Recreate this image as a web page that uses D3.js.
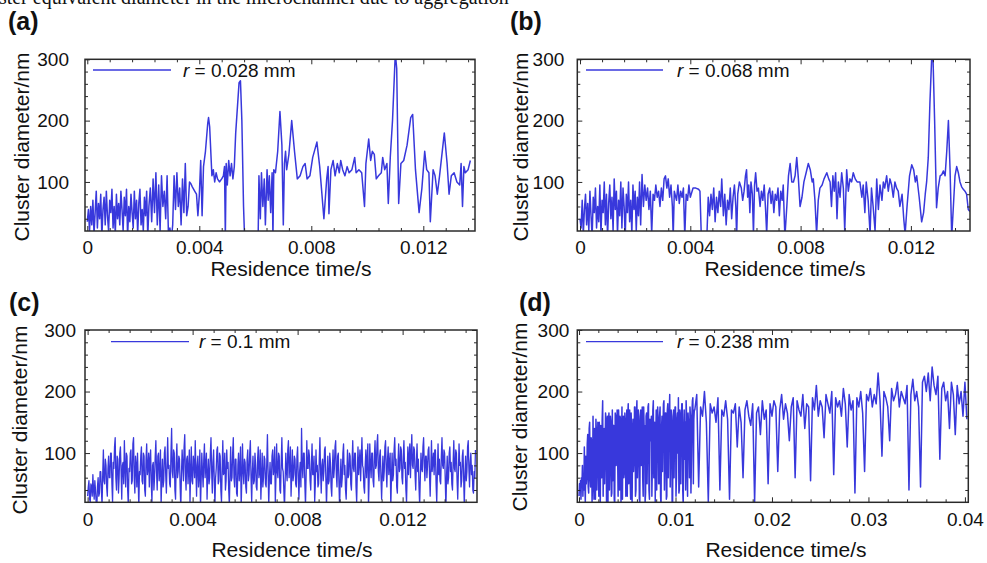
<!DOCTYPE html>
<html>
<head>
<meta charset="utf-8">
<script src="https://cdn.jsdelivr.net/npm/d3@7"></script>
<style>
  body { margin: 0; background: #fff; }
  svg { display: block; }
</style>
</head>
<body>
<svg id="fig" width="987" height="563"></svg>
<script>
// ---------------------------------------------------------------
// Cluster equivalent diameter vs residence time at four radial
// positions in the microchannel. Times are in milliseconds,
// diameters in nm.
// ---------------------------------------------------------------

const figureTitle = "Cluster equivalent diameter in the microchannel due to aggregation";
const panelLetters = ["(a)", "(b)", "(c)", "(d)"];
const radii = ["0.028", "0.068", "0.1", "0.238"];
const yAxisTitle = "Cluster diameter/nm";
const xAxisTitle = "Residence time/s";

const yTickValues = [100, 200, 300];
const yTickLabels = ["100", "200", "300"];
const xTickValuesShort = [0, 4, 8, 12];              // ms
const xTickLabelsShort = ["0", "0.004", "0.008", "0.012"];
const xTickValuesLong = [0, 10, 20, 30, 40];         // ms
const xTickLabelsLong = ["0", "0.01", "0.02", "0.03", "0.04"];

// (a) r = 0.028 mm : [time ms, diameter nm]
const seriesA = [
  [0,35],[0.04,55],[0.08,20],[0.12,60],[0.16,30],[0.2,70],[0.24,15],[0.28,50],[0.32,85],[0.36,25],
  [0.4,65],[0.44,40],[0.48,80],[0.52,10],[0.56,55],[0.6,75],[0.64,30],[0.68,85],[0.72,45],[0.76,20],
  [0.8,70],[0.84,50],[0.88,88],[0.92,25],[0.96,60],[1,15],[1.04,80],[1.08,40],[1.12,65],[1.16,30],
  [1.2,85],[1.24,55],[1.28,20],[1.32,75],[1.36,45],[1.4,88],[1.44,10],[1.48,60],[1.52,35],[1.56,80],
  [1.6,50],[1.64,25],[1.68,85],[1.72,40],[1.76,70],[1.8,15],[1.84,65],[1.88,88],[1.92,30],[1.96,55],
  [2,20],[2.04,75],[2.08,45],[2.12,85],[2.16,10],[2.2,60],
  [2.25,90],[2.3,35],[2.35,105],[2.4,50],[2.45,115],[2.5,30],[2.55,95],[2.6,20],[2.65,110],[2.7,60],
  [2.75,85],[2.8,40],[2.85,110],[2.9,10],[2.95,25],[3,5],[3.05,30],[3.1,110],[3.15,55],[3.2,115],
  [3.25,60],[3.3,90],[3.35,30],[3.4,105],[3.45,50],[3.5,130],[3.55,45],[3.6,60],[3.65,100],[3.7,97],
  [3.75,92],[3.8,88],[3.85,84],[3.9,80],[3.95,45],[4,78],
  [4.05,135],[4.1,45],[4.15,125],[4.22,150],[4.3,195],[4.33,205],[4.37,190],[4.45,110],[4.5,120],[4.55,100],
  [4.6,115],[4.65,105],[4.72,100],[4.8,105],[4.86,110],[4.9,125],[4.93,10],[4.96,130],[5,95],[5.05,135],
  [5.1,110],[5.15,130],[5.2,105],[5.25,125],[5.3,180],[5.42,262],[5.47,265],[5.52,200],[5.58,60],[5.62,5],
  [6.1,5],[6.13,110],[6.18,40],[6.22,115],[6.27,60],[6.32,105],[6.36,30],[6.42,120],[6.46,70],[6.5,110],
  [6.55,50],[6.6,115],[6.63,10],[6.66,120],[6.72,115],[6.8,150],[6.88,215],[6.95,160],[7,30],[7.04,130],
  [7.08,150],[7.12,120],[7.2,145],[7.3,200],[7.4,150],[7.5,105],[7.6,110],[7.7,125],[7.78,130],[7.85,105],
  [7.95,110],[8.05,140],[8.2,165],[8.3,125],[8.45,40],[8.55,105],[8.6,125],[8.63,48],[8.7,120],[8.78,135],
  [8.85,110],[8.93,130],[9,115],[9.05,135],[9.12,120],[9.2,110],[9.28,125],[9.35,115],[9.45,120],[9.55,140],
  [9.6,115],[9.7,120],[9.8,115],[9.9,60],[9.95,130],[10.05,170],[10.12,135],[10.18,150],[10.25,145],[10.32,105],
  [10.4,110],[10.5,115],[10.55,140],[10.62,120],[10.7,130],[10.75,65],[10.82,140],[10.9,200],[11,310],[11.05,285],
  [11.12,65],[11.2,130],[11.3,135],[11.42,160],[11.55,205],[11.62,210],[11.72,120],[11.85,50],[11.95,90],[12.05,150],
  [12.12,120],[12.2,115],[12.25,35],[12.35,120],[12.42,110],[12.5,80],[12.58,110],[12.75,180],[12.85,130],[12.92,80],
  [13,110],[13.1,115],[13.2,100],[13.3,95],[13.35,130],[13.4,60],[13.45,125],[13.5,115],[13.6,120],[13.68,135]
];

// (b) r = 0.068 mm : [time ms, diameter nm]
const seriesB = [
  [0,40],[0.04,25],[0.08,70],[0.12,15],[0.16,55],[0.2,80],[0.24,30],[0.28,65],[0.32,20],[0.36,85],
  [0.4,45],[0.44,10],[0.48,75],[0.52,50],[0.56,90],[0.6,25],[0.64,60],[0.68,35],[0.72,95],[0.76,15],
  [0.8,70],[0.84,50],[0.88,100],[0.92,30],[0.96,80],[1,10],[1.04,65],[1.08,95],[1.12,40],[1.16,75],
  [1.2,20],[1.24,105],[1.28,55],[1.32,85],[1.36,15],[1.4,70],[1.44,45],[1.48,100],[1.52,25],[1.56,90],
  [1.6,60],[1.64,10],[1.68,80],[1.72,50],[1.76,100],[1.8,35],[1.84,70],[1.88,15],[1.92,95],[1.96,55],
  [2,85],[2.04,20],[2.08,75],[2.12,45],[2.16,100],[2.2,30],
  [2.25,112],[2.3,60],[2.35,95],[2.4,70],[2.45,90],[2.5,55],[2.55,85],[2.6,15],[2.65,80],[2.7,70],
  [2.75,95],[2.8,75],[2.85,85],[2.9,60],[2.95,90],[3,70],[3.05,105],[3.1,110],[3.15,90],[3.2,105],
  [3.25,75],[3.3,95],[3.35,60],[3.38,10],[3.42,85],[3.5,70],[3.55,95],[3.6,65],[3.65,85],[3.7,75],
  [3.75,90],[3.8,10],[3.85,80],[3.9,70],[3.95,95],[4,75],[4.1,90],[4.2,90],[4.3,88],[4.35,85],
  [4.4,10],[4.5,5],[4.6,10],[4.65,75],[4.7,45],[4.75,80],[4.8,55],[4.85,90],[4.9,35],[4.95,75],
  [5,50],[5.05,85],[5.1,60],[5.14,105],[5.2,45],[5.25,80],[5.3,30],[5.35,70],[5.4,55],[5.45,90],
  [5.5,40],[5.55,75],[5.6,95],[5.65,60],[5.68,10],[5.72,80],[5.78,100],[5.85,90],[5.9,70],[5.95,85],
  [6,110],[6.04,120],[6.08,75],[6.12,95],[6.16,50],[6.2,100],[6.25,80],[6.29,15],[6.33,95],[6.37,115],
  [6.42,85],[6.47,90],[6.53,60],[6.58,85],[6.63,70],[6.68,95],[6.73,55],[6.77,15],[6.82,80],[6.88,90],
  [6.93,65],[6.98,85],[7.03,50],[7.08,80],[7.13,70],[7.18,90],[7.23,45],[7.28,85],[7.33,70],[7.37,95],
  [7.43,10],[7.5,60],[7.56,110],[7.62,130],[7.68,100],[7.74,100],[7.8,110],[7.86,140],[7.92,105],[7.98,60],
  [8.05,75],[8.12,100],[8.2,115],[8.28,130],[8.35,120],[8.42,100],[8.46,105],[8.52,70],[8.58,15],[8.64,70],
  [8.7,90],[8.78,95],[8.85,105],[8.95,115],[9.02,105],[9.07,100],[9.12,60],[9.17,110],[9.22,85],[9.27,115],
  [9.32,40],[9.37,100],[9.43,75],[9.49,115],[9.55,90],[9.6,20],[9.67,120],[9.73,85],[9.79,105],[9.85,100],
  [9.91,115],[9.98,105],[10.05,100],[10.15,100],[10.22,75],[10.27,95],[10.33,50],[10.38,100],[10.45,70],[10.52,15],
  [10.57,90],[10.63,60],[10.7,20],[10.76,105],[10.82,55],[10.88,95],[10.95,70],[11,100],[11.05,90],[11.12,110],
  [11.18,85],[11.24,105],[11.3,95],[11.36,75],[11.42,100],[11.48,90],[11.54,85],[11.6,60],[11.68,80],[11.74,40],
  [11.79,15],[11.86,60],[11.95,110],[12.03,128],[12.1,120],[12.16,100],[12.21,110],[12.3,75],[12.39,35],[12.46,50],
  [12.52,80],[12.57,100],[12.63,140],[12.69,230],[12.76,310],[12.8,305],[12.86,200],[12.93,58],[12.99,90],[13.06,110],
  [13.12,112],[13.18,118],[13.24,110],[13.3,150],[13.36,200],[13.42,120],[13.48,10],[13.54,60],[13.6,110],[13.66,125],
  [13.72,115],[13.78,100],[13.84,92],[13.9,88],[13.96,85],[14.02,80],[14.08,55],[14.14,52]
];

// (c) r = 0.1 mm : sample times (ms) and diameters (nm)
const timesC = [
  0,0.025,0.05,0.075,0.1,0.125,0.15,0.175,0.2,0.225,0.25,0.275,0.3,0.325,0.35,0.375,0.4,0.425,0.45,0.475,
  0.5,0.525,0.55,0.575,0.6,0.625,0.65,0.675,0.7,0.725,0.75,0.775,0.8,0.825,0.85,0.875,0.9,0.925,0.95,0.975,
  1,1.025,1.05,1.075,1.1,1.125,1.15,1.175,1.2,1.225,1.25,1.275,1.3,1.325,1.35,1.375,1.4,1.425,1.45,1.475,
  1.5,1.525,1.55,1.575,1.6,1.625,1.65,1.675,1.7,1.725,1.75,1.775,1.8,1.825,1.85,1.875,1.9,1.925,1.95,1.975,
  2,2.025,2.05,2.075,2.1,2.125,2.15,2.175,2.2,2.225,2.25,2.275,2.3,2.325,2.35,2.375,2.4,2.425,2.45,2.475,
  2.5,2.525,2.55,2.575,2.6,2.625,2.65,2.675,2.7,2.725,2.75,2.775,2.8,2.825,2.85,2.875,2.9,2.925,2.95,2.975,
  3,3.025,3.05,3.075,3.1,3.125,3.15,3.175,3.2,3.225,3.25,3.275,3.3,3.325,3.35,3.375,3.4,3.425,3.45,3.475,
  3.5,3.525,3.55,3.575,3.6,3.625,3.65,3.675,3.7,3.725,3.75,3.775,3.8,3.825,3.85,3.875,3.9,3.925,3.95,3.975,
  4,4.025,4.05,4.075,4.1,4.125,4.15,4.175,4.2,4.225,4.25,4.275,4.3,4.325,4.35,4.375,4.4,4.425,4.45,4.475,
  4.5,4.525,4.55,4.575,4.6,4.625,4.65,4.675,4.7,4.725,4.75,4.775,4.8,4.825,4.85,4.875,4.9,4.925,4.95,4.975,
  5,5.025,5.05,5.075,5.1,5.125,5.15,5.175,5.2,5.225,5.25,5.275,5.3,5.325,5.35,5.375,5.4,5.425,5.45,5.475,
  5.5,5.525,5.55,5.575,5.6,5.625,5.65,5.675,5.7,5.725,5.75,5.775,5.8,5.825,5.85,5.875,5.9,5.925,5.95,5.975,
  6,6.025,6.05,6.075,6.1,6.125,6.15,6.175,6.2,6.225,6.25,6.275,6.3,6.325,6.35,6.375,6.4,6.425,6.45,6.475,
  6.5,6.525,6.55,6.575,6.6,6.625,6.65,6.675,6.7,6.725,6.75,6.775,6.8,6.825,6.85,6.875,6.9,6.925,6.95,6.975,
  7,7.025,7.05,7.075,7.1,7.125,7.15,7.175,7.2,7.225,7.25,7.275,7.3,7.325,7.35,7.375,7.4,7.425,7.45,7.475,
  7.5,7.525,7.55,7.575,7.6,7.625,7.65,7.675,7.7,7.725,7.75,7.775,7.8,7.825,7.85,7.875,7.9,7.925,7.95,7.975,
  8,8.025,8.05,8.075,8.1,8.125,8.15,8.175,8.2,8.225,8.25,8.275,8.3,8.325,8.35,8.375,8.4,8.425,8.45,8.475,
  8.5,8.525,8.55,8.575,8.6,8.625,8.65,8.675,8.7,8.725,8.75,8.775,8.8,8.825,8.85,8.875,8.9,8.925,8.95,8.975,
  9,9.025,9.05,9.075,9.1,9.125,9.15,9.175,9.2,9.225,9.25,9.275,9.3,9.325,9.35,9.375,9.4,9.425,9.45,9.475,
  9.5,9.525,9.55,9.575,9.6,9.625,9.65,9.675,9.7,9.725,9.75,9.775,9.8,9.825,9.85,9.875,9.9,9.925,9.95,9.975,
  10,10.025,10.05,10.075,10.1,10.125,10.15,10.175,10.2,10.225,10.25,10.275,10.3,10.325,10.35,10.375,10.4,10.425,10.45,10.475,
  10.5,10.525,10.55,10.575,10.6,10.625,10.65,10.675,10.7,10.725,10.75,10.775,10.8,10.825,10.85,10.875,10.9,10.925,10.95,10.975,
  11,11.025,11.05,11.075,11.1,11.125,11.15,11.175,11.2,11.225,11.25,11.275,11.3,11.325,11.35,11.375,11.4,11.425,11.45,11.475,
  11.5,11.525,11.55,11.575,11.6,11.625,11.65,11.675,11.7,11.725,11.75,11.775,11.8,11.825,11.85,11.875,11.9,11.925,11.95,11.975,
  12,12.025,12.05,12.075,12.1,12.125,12.15,12.175,12.2,12.225,12.25,12.275,12.3,12.325,12.35,12.375,12.4,12.425,12.45,12.475,
  12.5,12.525,12.55,12.575,12.6,12.625,12.65,12.675,12.7,12.725,12.75,12.775,12.8,12.825,12.85,12.875,12.9,12.925,12.95,12.975,
  13,13.025,13.05,13.075,13.1,13.125,13.15,13.175,13.2,13.225,13.25,13.275,13.3,13.325,13.35,13.375,13.4,13.425,13.45,13.475,
  13.5,13.525,13.55,13.575,13.6,13.625,13.65,13.675,13.7,13.725,13.75,13.775,13.8,13.825,13.85,13.875,13.9,13.925,13.95,13.975,
  14,14.025,14.05,14.075,14.1,14.125,14.15,14.175,14.2,14.225,14.25,14.275,14.3,14.325,14.35,14.375,14.4,14.425,14.45,14.475,
  14.5,14.525,14.55,14.575,14.6,14.625,14.65,14.675,14.7,14.725,14.75,14.775
];
const diamC = [
  30,45,55,25,20,50,45,30,65,40,25,55,40,20,10,45,60,30,35,70,70,40,15,65,105,55,50,90,80,45,30,75,95,60,60,100,100,50,20,85,
  75,110,125,60,40,95,90,35,60,100,110,70,25,80,85,50,120,75,45,100,95,40,15,75,70,100,105,50,55,115,125,60,35,95,80,45,100,60,10,70,
  65,95,110,55,50,100,95,40,30,90,115,65,75,100,45,90,105,50,20,80,85,40,60,95,120,70,40,95,100,55,70,105,15,60,90,45,55,100,110,65,
  35,80,125,75,80,50,45,100,140,70,60,105,100,40,25,85,115,60,70,95,90,45,10,65,105,80,55,110,130,65,40,90,95,50,75,105,20,70,110,55,
  50,95,85,60,120,75,30,80,95,45,65,105,10,55,100,70,45,90,115,60,80,100,25,65,90,50,60,100,125,70,35,85,105,55,15,60,75,105,110,50,
  55,100,95,40,20,75,120,65,70,100,40,55,105,75,85,40,15,70,110,55,60,100,125,60,45,90,90,35,30,80,100,55,75,110,10,60,115,70,50,90,
  85,45,35,90,105,55,65,100,120,60,20,70,95,50,55,100,80,45,40,90,110,60,70,105,25,60,100,45,60,95,90,50,45,85,130,70,15,60,85,50,
  50,95,105,65,75,110,20,60,115,70,60,100,95,40,35,85,125,75,70,40,10,55,100,70,55,105,120,60,80,110,30,65,105,55,65,95,90,50,45,95,
  110,60,25,70,85,45,140,80,60,100,100,50,15,65,120,75,75,105,95,55,40,80,115,65,65,95,20,50,105,70,80,45,50,90,125,70,35,80,90,55,
  70,105,110,60,15,55,95,50,55,100,85,45,30,75,105,60,75,110,120,65,45,95,100,50,10,60,90,45,60,100,115,65,80,40,25,65,105,60,65,100,
  95,50,40,85,120,75,70,100,100,45,20,70,110,65,85,105,55,90,125,80,75,45,35,80,105,60,90,115,15,55,115,80,60,100,100,55,45,95,120,75,
  80,115,130,70,55,95,105,60,25,65,95,55,70,110,120,75,45,90,110,65,85,100,10,60,100,55,65,105,125,80,90,45,35,85,115,70,75,110,105,60,
  50,95,120,75,85,40,20,70,110,65,95,115,60,100,130,80,75,110,105,65,40,85,115,70,90,45,15,60,100,75,70,110,125,80,55,95,95,60,80,105,
  110,65,30,75,120,70,85,100,65,105,105,50,20,70,115,65,90,55,50,95,125,80,75,105,100,55,10,65,95,50,60,100,110,70,85,50,40,85,120,75,
  70,105,100,55,25,70,115,80,85,45,55,95,105,60,15,65,95,55,70,110,120,75,45,85,100,65,80,40,35,70,60,105
];

// (d) r = 0.238 mm : sample times (ms) and diameters (nm)
const timesD = [
  0,0.05,0.1,0.15,0.2,0.25,0.3,0.35,0.4,0.45,0.5,0.55,0.6,0.65,0.7,0.75,0.8,0.85,0.9,0.95,
  1,1.05,1.1,1.15,1.2,1.25,1.3,1.35,1.4,1.45,1.5,1.55,1.6,1.65,1.7,1.75,1.8,1.85,1.9,1.95,
  2,2.05,2.1,2.15,2.2,2.25,2.3,2.35,2.4,2.45,2.5,2.55,2.6,2.65,2.7,2.75,2.8,2.85,2.9,2.95,
  3,3.05,3.1,3.15,3.2,3.25,3.3,3.35,3.4,3.45,3.5,3.55,3.6,3.65,3.7,3.75,3.8,3.85,3.9,3.95,
  4,4.05,4.1,4.15,4.2,4.25,4.3,4.35,4.4,4.45,4.5,4.55,4.6,4.65,4.7,4.75,4.8,4.85,4.9,4.95,
  5,5.05,5.1,5.15,5.2,5.25,5.3,5.35,5.4,5.45,5.5,5.55,5.6,5.65,5.7,5.75,5.8,5.85,5.9,5.95,
  6,6.05,6.1,6.15,6.2,6.25,6.3,6.35,6.4,6.45,6.5,6.55,6.6,6.65,6.7,6.75,6.8,6.85,6.9,6.95,
  7,7.05,7.1,7.15,7.2,7.25,7.3,7.35,7.4,7.45,7.5,7.55,7.6,7.65,7.7,7.75,7.8,7.85,7.9,7.95,
  8,8.05,8.1,8.15,8.2,8.25,8.3,8.35,8.4,8.45,8.5,8.55,8.6,8.65,8.7,8.75,8.8,8.85,8.9,8.95,
  9,9.05,9.1,9.15,9.2,9.25,9.3,9.35,9.4,9.45,9.5,9.55,9.6,9.65,9.7,9.75,9.8,9.85,9.9,9.95,
  10,10.05,10.1,10.15,10.2,10.25,10.3,10.35,10.4,10.45,10.5,10.55,10.6,10.65,10.7,10.75,10.8,10.85,10.9,10.95,
  11,11.05,11.1,11.15,11.2,11.25,11.3,11.35,11.4,11.45,11.5,11.55,11.6,11.65,11.7,11.75,11.8,11.85,11.9,11.95,
  12,12.2,12.4,12.6,12.8,13,13.2,13.4,13.6,13.8,
  14,14.2,14.4,14.6,14.8,15,15.2,15.4,15.6,15.8,
  16,16.2,16.4,16.6,16.8,17,17.2,17.4,17.6,17.8,
  18,18.2,18.4,18.6,18.8,19,19.2,19.4,19.6,19.8,
  20,20.2,20.4,20.6,20.8,21,21.2,21.4,21.6,21.8,
  22,22.2,22.4,22.6,22.8,23,23.2,23.4,23.6,23.8,
  24,24.2,24.4,24.6,24.8,25,25.2,25.4,25.6,25.8,
  26,26.2,26.4,26.6,26.8,27,27.2,27.4,27.6,27.8,
  28,28.2,28.4,28.6,28.8,29,29.2,29.4,29.6,29.8,
  30,30.2,30.4,30.6,30.8,31,31.2,31.4,31.6,31.8,
  32,32.2,32.4,32.6,32.8,33,33.2,33.4,33.6,33.8,
  34,34.2,34.4,34.6,34.8,35,35.2,35.4,35.6,35.8,
  36,36.2,36.4,36.6,36.8,37,37.2,37.4,37.6,37.8,
  38,38.2,38.4,38.6,38.8,39,39.2,39.4,39.6,39.8,
  40,40.2
];
const diamD = [
  30,50,40,55,25,60,45,80,30,65,40,110,55,20,95,50,60,115,130,45,
  35,140,150,60,45,125,120,20,50,160,70,25,140,90,25,155,135,40,100,150,
  90,30,150,70,15,145,120,60,155,185,30,110,140,50,100,165,155,20,130,160,
  20,150,165,40,80,160,150,30,35,170,55,140,145,25,15,165,160,80,125,170,
  95,30,170,140,40,160,155,20,110,175,25,150,160,60,70,165,150,30,120,170,
  30,160,180,50,120,170,55,25,165,140,15,120,155,70,90,175,175,30,40,165,
  185,60,100,170,160,25,20,150,170,80,130,175,60,30,175,140,145,20,35,160,
  165,50,110,175,180,40,25,155,150,120,160,30,80,170,185,60,140,150,20,120,
  170,40,125,175,155,50,50,160,175,30,15,140,160,70,140,180,185,40,90,165,
  165,25,30,170,180,60,150,165,195,45,110,170,160,20,20,150,170,60,135,175,
  175,30,60,155,165,100,190,35,40,170,160,50,145,180,180,40,15,140,170,90,
  150,40,185,160,70,30,165,150,130,60,175,160,35,90,160,185,190,50,155,170,
  170,195,45,175,160,200,150,20,180,165,
  175,150,190,40,170,160,185,155,25,170,
  165,180,110,175,150,60,170,185,160,145,
  180,20,165,175,130,185,155,170,50,180,
  160,185,175,70,170,195,155,180,165,120,
  175,190,60,185,170,160,195,140,180,175,
  55,190,170,210,160,185,175,125,195,180,
  165,200,65,190,175,185,160,205,180,110,
  195,170,185,35,190,175,200,165,70,195,
  185,205,175,195,180,230,185,95,200,190,
  175,120,205,185,195,215,175,200,190,180,
  210,40,195,220,185,200,175,45,215,225,
  200,230,185,240,210,195,225,90,205,215,
  185,200,140,215,195,130,210,180,200,160,
  215,155
];

// ---------------------------------------------------------------
const FONT = "'Liberation Sans', Arial, Helvetica, sans-serif";
const LINE_COLOR = "#3838dc";
const FRAME_COLOR = "#2a2a2a";
const yDomain = [20, 300];

const panels = [
  { letter: panelLetters[0], radius: radii[0], data: seriesA, width: 1.5,
    box: { x0: 85, x1: 475, y0: 59.3, y1: 231 }, xDomain: [-0.082, 13.846],
    xTicks: xTickValuesShort, xLabels: xTickLabelsShort, xMinor: 0.8,
    letterPos: [8, 30], legend: { x0: 93, x1: 171, y: 70, tx: 183 },
    yTitle: [22, 147], xTitle: [291, 276], yPad: 16 },
  { letter: panelLetters[1], radius: radii[1], data: seriesB, width: 1.5,
    box: { x0: 577.3, x1: 970, y0: 59.3, y1: 231 }, xDomain: [-0.098, 14.143],
    xTicks: xTickValuesShort, xLabels: xTickLabelsShort, xMinor: 0.8,
    letterPos: [510, 30], legend: { x0: 586, x1: 663, y: 70, tx: 677 },
    yTitle: [521, 147], xTitle: [785, 276], yPad: 13 },
  { letter: panelLetters[2], radius: radii[2], data: d3.zip(timesC, diamC), width: 1.3,
    box: { x0: 85, x1: 477, y0: 330, y1: 502.3 }, xDomain: [-0.1, 14.834],
    xTicks: xTickValuesShort, xLabels: xTickLabelsShort, xMinor: 0.8,
    letterPos: [9, 311], legend: { x0: 111, x1: 189, y: 341.7, tx: 199 },
    yTitle: [20, 420], xTitle: [292, 557], yPad: 9 },
  { letter: panelLetters[3], radius: radii[3], data: d3.zip(timesD, diamD), width: 1.5,
    box: { x0: 577.3, x1: 968.3, y0: 330, y1: 502.3 }, xDomain: [-0.18, 40.35],
    xTicks: xTickValuesLong, xLabels: xTickLabelsLong, xMinor: 2,
    letterPos: [519, 311], legend: { x0: 586, x1: 663, y: 341.7, tx: 677 },
    yTitle: [520, 417], xTitle: [786, 557], yPad: 8 }
];

const svg = d3.select("#fig");
svg.append("rect").attr("width", 987).attr("height", 563).attr("fill", "#fff");

// figure caption running off the top edge
svg.append("text")
  .attr("x", -30).attr("y", 4)
  .attr("font-family", "'Liberation Serif', 'Times New Roman', serif")
  .attr("font-size", 20).attr("fill", "#111")
  .text(figureTitle);

function styleAxis(sel) {
  sel.select(".domain").remove();
  sel.selectAll(".tick line").attr("stroke", FRAME_COLOR).attr("stroke-width", 1);
  sel.selectAll(".tick text")
    .attr("font-family", FONT).attr("font-size", 19).attr("fill", "#111");
}

panels.forEach((p, i) => {
  const g = svg.append("g");
  const x = d3.scaleLinear().domain(p.xDomain).range([p.box.x0, p.box.x1]);
  const y = d3.scaleLinear().domain(yDomain).range([p.box.y1, p.box.y0]);

  const clipId = "clip-" + i;
  g.append("clipPath").attr("id", clipId)
    .append("rect")
    .attr("x", p.box.x0).attr("y", p.box.y0)
    .attr("width", p.box.x1 - p.box.x0).attr("height", p.box.y1 - p.box.y0);

  // data trace
  g.append("path")
    .datum(p.data)
    .attr("clip-path", `url(#${clipId})`)
    .attr("fill", "none")
    .attr("stroke", LINE_COLOR)
    .attr("stroke-width", p.width)
    .attr("stroke-linejoin", "round")
    .attr("d", d3.line().x(d => x(d[0])).y(d => y(d[1])));

  // minor tick positions
  const xMinor = d3.range(p.xMinor, p.xDomain[1], p.xMinor)
    .filter(v => !p.xTicks.some(t => Math.abs(t - v) < 1e-6));
  const yMinor = d3.range(40, 300, 20).filter(v => !yTickValues.includes(v));

  // bottom axis with labels
  g.append("g").attr("transform", `translate(0,${p.box.y1})`)
    .call(d3.axisBottom(x).tickValues(p.xTicks)
      .tickFormat((d, k) => p.xLabels[k]).tickSizeInner(-5).tickSizeOuter(0).tickPadding(10))
    .call(styleAxis);
  g.append("g").attr("transform", `translate(0,${p.box.y1})`)
    .call(d3.axisBottom(x).tickValues(xMinor).tickFormat("").tickSizeInner(-3).tickSizeOuter(0))
    .call(styleAxis);
  // top mirror ticks
  g.append("g").attr("transform", `translate(0,${p.box.y0})`)
    .call(d3.axisTop(x).tickValues(p.xTicks).tickFormat("").tickSizeInner(-5).tickSizeOuter(0))
    .call(styleAxis);
  g.append("g").attr("transform", `translate(0,${p.box.y0})`)
    .call(d3.axisTop(x).tickValues(xMinor).tickFormat("").tickSizeInner(-3).tickSizeOuter(0))
    .call(styleAxis);
  // left axis with labels
  g.append("g").attr("transform", `translate(${p.box.x0},0)`)
    .call(d3.axisLeft(y).tickValues(yTickValues)
      .tickFormat((d, k) => yTickLabels[k]).tickSizeInner(-5).tickSizeOuter(0).tickPadding(p.yPad))
    .call(styleAxis);
  g.append("g").attr("transform", `translate(${p.box.x0},0)`)
    .call(d3.axisLeft(y).tickValues(yMinor).tickFormat("").tickSizeInner(-3).tickSizeOuter(0))
    .call(styleAxis);
  // right mirror ticks
  g.append("g").attr("transform", `translate(${p.box.x1},0)`)
    .call(d3.axisRight(y).tickValues(yTickValues).tickFormat("").tickSizeInner(-5).tickSizeOuter(0))
    .call(styleAxis);
  g.append("g").attr("transform", `translate(${p.box.x1},0)`)
    .call(d3.axisRight(y).tickValues(yMinor).tickFormat("").tickSizeInner(-3).tickSizeOuter(0))
    .call(styleAxis);

  // plot frame
  g.append("rect")
    .attr("x", p.box.x0).attr("y", p.box.y0)
    .attr("width", p.box.x1 - p.box.x0).attr("height", p.box.y1 - p.box.y0)
    .attr("fill", "none").attr("stroke", FRAME_COLOR).attr("stroke-width", 1.5);

  // legend
  g.append("line")
    .attr("x1", p.legend.x0).attr("x2", p.legend.x1)
    .attr("y1", p.legend.y).attr("y2", p.legend.y)
    .attr("stroke", LINE_COLOR).attr("stroke-width", 1.3);
  const lt = g.append("text")
    .attr("x", p.legend.tx).attr("y", p.legend.y + 6.5)
    .attr("font-family", FONT).attr("font-size", 19).attr("fill", "#111");
  lt.append("tspan").attr("font-style", "italic").text("r");
  lt.append("tspan").text(" = " + p.radius + " mm");

  // axis titles
  g.append("text")
    .attr("transform", `translate(${p.yTitle[0]},${p.yTitle[1]}) rotate(-90)`)
    .attr("text-anchor", "middle").attr("dy", "0.35em")
    .attr("font-family", FONT).attr("font-size", 21).attr("fill", "#111")
    .text(yAxisTitle);
  g.append("text")
    .attr("x", p.xTitle[0]).attr("y", p.xTitle[1])
    .attr("text-anchor", "middle")
    .attr("font-family", FONT).attr("font-size", 21).attr("fill", "#111")
    .text(xAxisTitle);

  // panel letter
  g.append("text")
    .attr("x", p.letterPos[0]).attr("y", p.letterPos[1])
    .attr("font-family", FONT).attr("font-size", 25).attr("font-weight", "bold")
    .attr("fill", "#111")
    .text(p.letter);
});
</script>
</body>
</html>
